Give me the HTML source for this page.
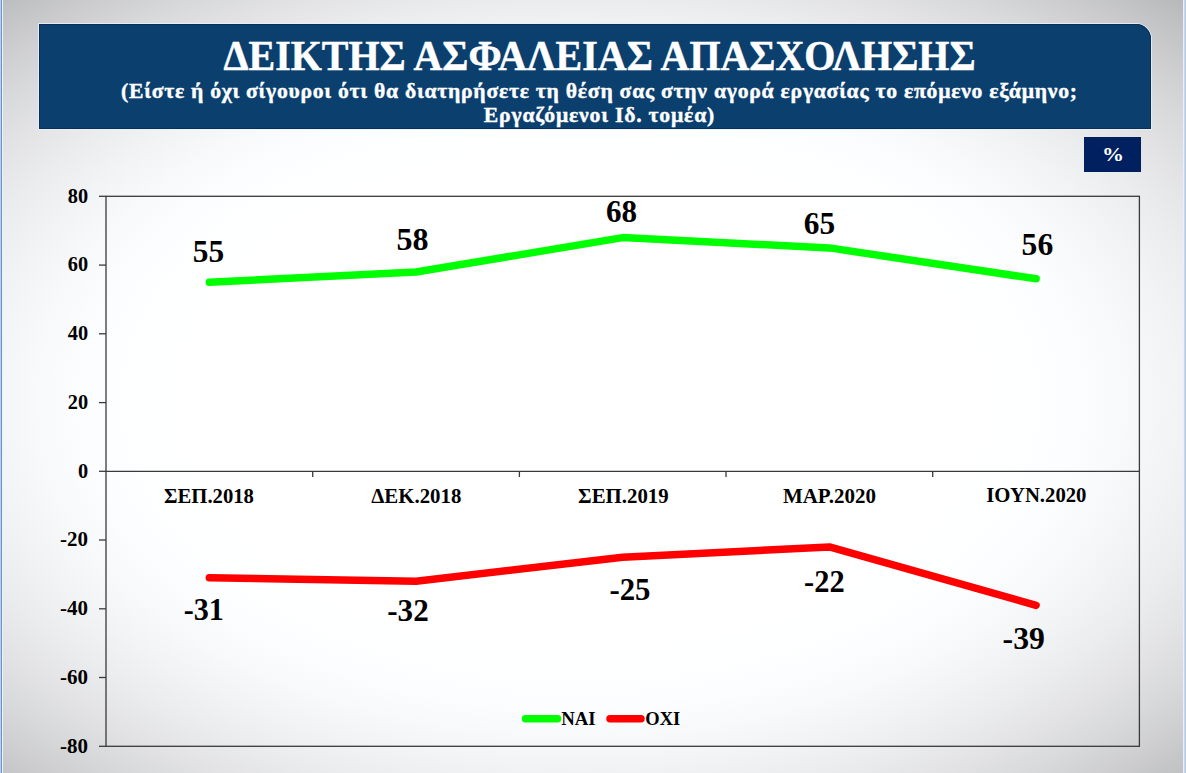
<!DOCTYPE html>
<html lang="el">
<head>
<meta charset="utf-8">
<title>ΔΕΙΚΤΗΣ ΑΣΦΑΛΕΙΑΣ ΑΠΑΣΧΟΛΗΣΗΣ</title>
<style>
html,body{margin:0;padding:0;}
body{width:1186px;height:773px;overflow:hidden;position:relative;
 background:radial-gradient(ellipse 520px 320px at 580px 400px, #fff 0%, rgb(255,255,255) 75%, rgb(254,255,255) 85%, rgb(252,253,255) 95%, rgb(248,249,251) 105%, rgb(242,243,245) 115%, rgb(235,236,238) 125%, rgb(227,227,230) 135%, rgb(216,217,219) 145%, rgb(205,205,208) 155%, rgb(191,192,194) 165%, rgb(176,177,179) 175%);}
.edge{position:absolute;top:0;width:2px;height:773px;background:#9dbbe9;}
#hdr{position:absolute;left:39px;top:24px;width:1112px;height:105px;background:#0b3f6e;border-top-right-radius:15px;box-shadow:inset 0 0 0 1px #072f57, 0 0 0 1px rgba(232,240,250,0.85);}
#pct{position:absolute;left:1084px;top:137px;width:57px;height:35px;background:#002060;}
svg{position:absolute;left:0;top:0;}
svg text{font-family:"Liberation Serif",serif;font-weight:bold;}
</style>
</head>
<body>
<div class="edge" style="left:0;width:1px;background:#b0cfff"></div>
<div class="edge" style="left:1px;width:1px;background:#7490c0"></div>
<div class="edge" style="left:2px;width:1px;background:#eaf6ff"></div>
<div class="edge" style="left:1183px;width:1px;background:#e8f0ff"></div>
<div class="edge" style="left:1184px;width:1px;background:#cad8ec"></div>
<div class="edge" style="left:1185px;width:1px;background:#b8c8e0"></div>
<div id="hdr"></div>
<div id="pct"></div>
<svg width="1186" height="773" viewBox="0 0 1186 773">
 <g stroke="#3a3a3a" stroke-width="1.3" fill="none">
  <rect x="106" y="196.3" width="1033.4" height="550"/>
  <line x1="106" y1="471.3" x2="1139.4" y2="471.3"/>
  <line x1="99" y1="196.3" x2="106" y2="196.3"/><line x1="99" y1="265.1" x2="106" y2="265.1"/><line x1="99" y1="333.8" x2="106" y2="333.8"/><line x1="99" y1="402.6" x2="106" y2="402.6"/><line x1="99" y1="471.3" x2="106" y2="471.3"/><line x1="99" y1="540.0" x2="106" y2="540.0"/><line x1="99" y1="608.8" x2="106" y2="608.8"/><line x1="99" y1="677.5" x2="106" y2="677.5"/><line x1="99" y1="746.3" x2="106" y2="746.3"/>
  <line x1="312.7" y1="471.3" x2="312.7" y2="477"/><line x1="519.4" y1="471.3" x2="519.4" y2="477"/><line x1="726.0" y1="471.3" x2="726.0" y2="477"/><line x1="932.7" y1="471.3" x2="932.7" y2="477"/>
 </g>
 <g fill="none" stroke-width="7.5" stroke-linecap="round" stroke-linejoin="round">
  <polyline stroke="#00ff00" points="209.3,282.3 416.0,272.0 622.7,237.6 829.4,247.9 1036.1,278.8"/>
  <polyline stroke="#ff0000" points="209.3,577.8 416.0,581.3 622.7,557.2 829.4,546.9 1036.1,605.3"/>
 </g>
 <g stroke-width="7.5" stroke-linecap="round">
  <line x1="525.5" y1="718.8" x2="557.5" y2="718.8" stroke="#00ff00"/>
  <line x1="610" y1="718.8" x2="641" y2="718.8" stroke="#ff0000"/>
 </g>
 <text x="223.46" y="69.90" font-size="42.8" textLength="752.09" lengthAdjust="spacingAndGlyphs" fill="#ffffff" stroke="#fff" stroke-width="0.5">ΔΕΙΚΤΗΣ ΑΣΦΑΛΕΙΑΣ ΑΠΑΣΧΟΛΗΣΗΣ</text>
<text x="121.05" y="98.00" font-size="21.7" textLength="955.93" lengthAdjust="spacing" fill="#ffffff" stroke="#fff" stroke-width="0.4">(Είστε ή όχι σίγουροι ότι θα διατηρήσετε τη θέση σας στην αγορά εργασίας το επόμενο εξάμηνο;</text>
<text x="483.83" y="122.00" font-size="21.7" textLength="230.42" lengthAdjust="spacing" fill="#ffffff" stroke="#fff" stroke-width="0.4">Εργαζόμενοι Ιδ. τομέα)</text>
<text x="1102.04" y="160.80" font-size="19.5" textLength="22.02" lengthAdjust="spacingAndGlyphs" fill="#ffffff">%</text>
<text x="67.77" y="202.60" font-size="20.3" textLength="20.30" lengthAdjust="spacingAndGlyphs" fill="#000">80</text>
<text x="67.77" y="271.34" font-size="20.3" textLength="20.30" lengthAdjust="spacingAndGlyphs" fill="#000">60</text>
<text x="67.77" y="340.08" font-size="20.3" textLength="20.30" lengthAdjust="spacingAndGlyphs" fill="#000">40</text>
<text x="67.77" y="408.82" font-size="20.3" textLength="20.30" lengthAdjust="spacingAndGlyphs" fill="#000">20</text>
<text x="77.92" y="477.56" font-size="20.3" textLength="10.15" lengthAdjust="spacingAndGlyphs" fill="#000">0</text>
<text x="60.09" y="546.30" font-size="20.3" textLength="28.01" lengthAdjust="spacingAndGlyphs" fill="#000">-20</text>
<text x="60.09" y="615.04" font-size="20.3" textLength="28.01" lengthAdjust="spacingAndGlyphs" fill="#000">-40</text>
<text x="60.09" y="683.78" font-size="20.3" textLength="28.01" lengthAdjust="spacingAndGlyphs" fill="#000">-60</text>
<text x="60.09" y="752.52" font-size="20.3" textLength="28.01" lengthAdjust="spacingAndGlyphs" fill="#000">-80</text>
<text x="164.02" y="502.50" font-size="20.2" textLength="89.96" lengthAdjust="spacingAndGlyphs" fill="#000">ΣΕΠ.2018</text>
<text x="371.32" y="502.50" font-size="20.2" textLength="89.98" lengthAdjust="spacingAndGlyphs" fill="#000">ΔΕΚ.2018</text>
<text x="578.12" y="502.50" font-size="20.2" textLength="90.53" lengthAdjust="spacingAndGlyphs" fill="#000">ΣΕΠ.2019</text>
<text x="782.95" y="502.50" font-size="20.2" textLength="93.03" lengthAdjust="spacingAndGlyphs" fill="#000">ΜΑΡ.2020</text>
<text x="986.31" y="501.50" font-size="20.2" textLength="100.18" lengthAdjust="spacingAndGlyphs" fill="#000">ΙΟΥΝ.2020</text>
<text x="192.74" y="261.60" font-size="31" textLength="31.41" lengthAdjust="spacingAndGlyphs" fill="#000">55</text>
<text x="396.42" y="249.80" font-size="31" textLength="32.05" lengthAdjust="spacingAndGlyphs" fill="#000">58</text>
<text x="605.94" y="221.60" font-size="31" textLength="31.10" lengthAdjust="spacingAndGlyphs" fill="#000">68</text>
<text x="803.83" y="233.70" font-size="31" textLength="31.32" lengthAdjust="spacingAndGlyphs" fill="#000">65</text>
<text x="1021.64" y="255.00" font-size="31" textLength="31.59" lengthAdjust="spacingAndGlyphs" fill="#000">56</text>
<text x="183.70" y="619.70" font-size="31" textLength="40.16" lengthAdjust="spacingAndGlyphs" fill="#000">-31</text>
<text x="387.26" y="621.00" font-size="31" textLength="41.48" lengthAdjust="spacingAndGlyphs" fill="#000">-32</text>
<text x="609.47" y="600.40" font-size="31" textLength="41.06" lengthAdjust="spacingAndGlyphs" fill="#000">-25</text>
<text x="804.09" y="592.00" font-size="31" textLength="40.52" lengthAdjust="spacingAndGlyphs" fill="#000">-22</text>
<text x="1002.64" y="648.90" font-size="31" textLength="42.31" lengthAdjust="spacingAndGlyphs" fill="#000">-39</text>
<text x="561.24" y="724.90" font-size="18.3" textLength="34.39" lengthAdjust="spacingAndGlyphs" fill="#000">ΝΑΙ</text>
<text x="645.30" y="724.90" font-size="18.3" textLength="34.93" lengthAdjust="spacingAndGlyphs" fill="#000">ΟΧΙ</text>
</svg>
</body>
</html>
